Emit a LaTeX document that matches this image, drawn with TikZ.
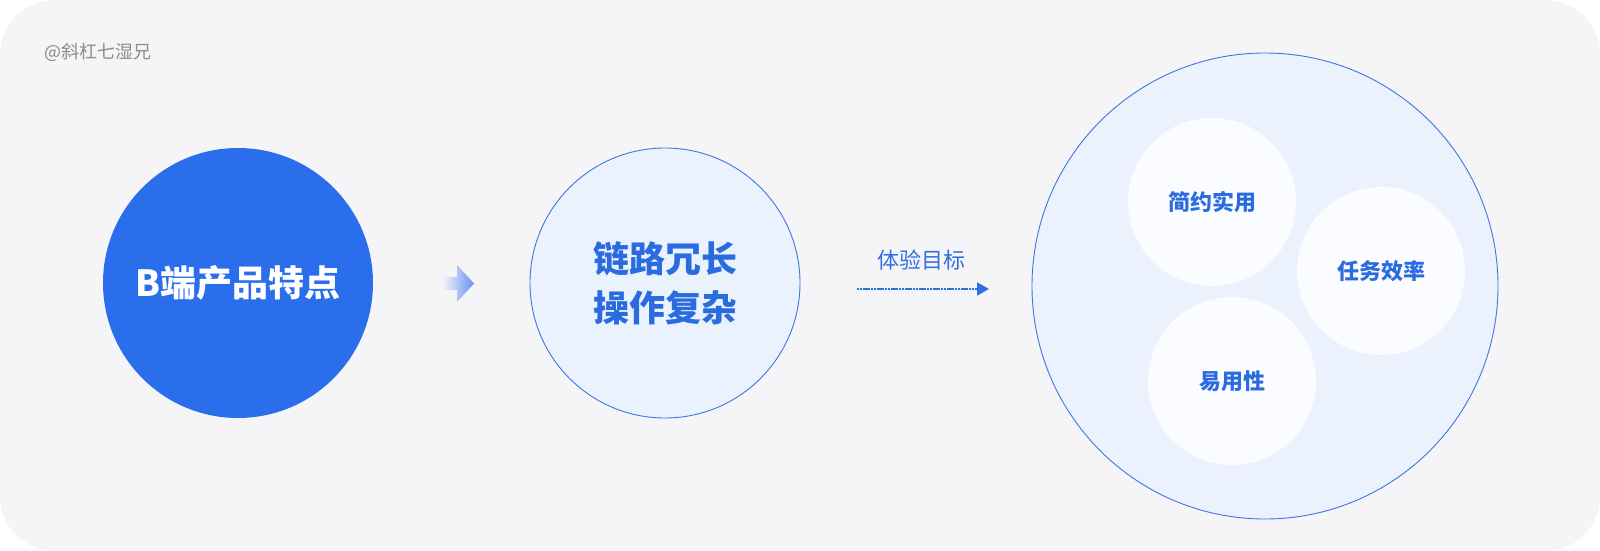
\documentclass[tikz,border=0pt]{standalone}
\usepackage{fontspec}
\setmainfont{Noto Sans CJK SC}
\usetikzlibrary{arrows.meta}
\definecolor{bgc}{HTML}{F5F5F8}
\definecolor{blueA}{HTML}{2A6EEB}
\definecolor{midfill}{HTML}{EAF2FD}
\definecolor{bordc}{HTML}{3D77DE}
\definecolor{bigfill}{HTML}{EBF2FD}
\definecolor{smallfill}{HTML}{FAFCFF}
\definecolor{txtblue}{HTML}{2A6BE0}
\definecolor{grayc}{HTML}{8C8C8C}
\definecolor{arrowblue}{HTML}{6A8FF5}
\definecolor{dashblue}{HTML}{2F6FE4}
\begin{document}
\begin{tikzpicture}[x=1pt,y=-1pt,
  bigdot/.style={circle, inner sep=0pt, minimum size=270pt, align=center},
  smalldot/.style={circle, inner sep=0pt, minimum size=168pt, fill=smallfill, text=txtblue, font=\bfseries\fontsize{22}{22}\selectfont},
  ringline/.style={draw=bordc, line width=0.9pt}
]
\useasboundingbox (0,0) rectangle (1600,551);
\fill[white] (0,0) rectangle (1600,551);
\fill[bgc, rounded corners=55pt] (0,0) rectangle (1600,551);

\node[anchor=west, text=grayc, inner sep=0pt, font=\fontsize{18}{18}\selectfont] (wm) at (44,52) {@斜杠七湿兄};

\node[bigdot, fill=blueA, text=white, font=\bfseries\fontsize{36}{36}\selectfont] (b) at (238,283) {B端产品特点};

\node[bigdot, ringline, fill=midfill, text=txtblue, font=\bfseries\fontsize{36}{49}\selectfont] (m) at (665,283) {链路冗长\\操作复杂};

\shade[left color=bgc, right color=arrowblue] (442,277) -- (457,277) -- (457,265) -- (474,283.5) -- (457,302) -- (457,290) -- (442,290) -- cycle;

\coordinate (ds) at (857,289);
\coordinate (de) at (989,289);
\draw[dashblue, line width=1.8pt, dash pattern=on 2.2pt off 0.6pt, -{Triangle[length=12pt,width=13pt]}] (ds) -- (de);
\node[text=dashblue, inner sep=0pt, font=\fontsize{22}{22}\selectfont] (lab) at (921,260) {体验目标};

\node[circle, inner sep=0pt, minimum size=466pt, fill=bigfill, ringline] (g) at (1265,286) {};

\node[smalldot] (s1) at (1212,202) {简约实用};
\node[smalldot] (s2) at (1381,271) {任务效率};
\node[smalldot] (s3) at (1232,381) {易用性};
\end{tikzpicture}
\end{document}
